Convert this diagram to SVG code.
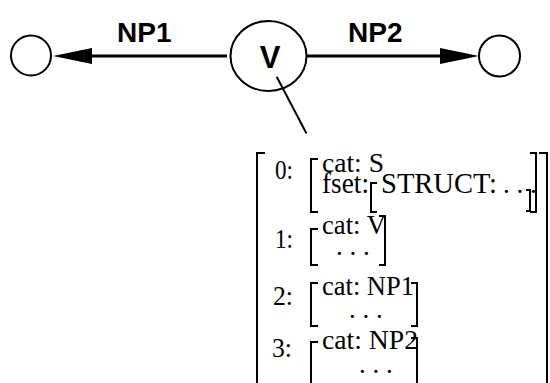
<svg xmlns="http://www.w3.org/2000/svg" width="550" height="383" viewBox="0 0 550 383">
<style>
.node{fill:none;stroke:#000;stroke-width:2}
.edge{stroke:#000;stroke-width:3;fill:none}
.link{stroke:#000;stroke-width:2;fill:none}
.lbl{font-family:"Liberation Sans",Arial,sans-serif;font-weight:bold;fill:#000}
.avm{font-family:"Liberation Serif","Times New Roman",serif;font-size:27px;fill:#000}
.big{font-size:29px}
.br{fill:none;stroke:#000;stroke-width:2}
</style>
<defs>
<marker id="head" markerUnits="userSpaceOnUse" markerWidth="40" markerHeight="18" viewBox="0 -9 40 18" refX="0" refY="0" orient="auto">
<path d="M0,-8 L39,0 L0,8 z" fill="#000"/>
</marker>
</defs>
<rect width="550" height="383" fill="#fff"/>
<g id="connectors">
<line class="edge" x1="227" y1="56" x2="92" y2="56" marker-end="url(#head)"/>
<line class="edge" x1="307" y1="56" x2="440" y2="56" marker-end="url(#head)"/>
<line class="link" x1="276.7" y1="76.7" x2="306.5" y2="133.5"/>
<text class="lbl" x="117" y="41.5" font-size="28">NP1</text>
<text class="lbl" x="348" y="41.5" font-size="28">NP2</text>
</g>
<g id="node-left">
<circle class="node" cx="31" cy="55.5" r="20"/>
</g>
<g id="node-v">
<ellipse class="node" cx="268.5" cy="56" rx="38" ry="35"/>
<text class="lbl" x="270" y="68" font-size="31" text-anchor="middle">V</text>
</g>
<g id="node-right">
<circle class="node" cx="499.5" cy="56" r="20.5"/>
</g>
<g id="avm">
<path class="br" d="M265,153 H257 V390"/>
<path class="br" d="M539,153 H547 V390"/>
<text class="avm" x="275" y="179" textLength="18" lengthAdjust="spacingAndGlyphs">0:</text>
<path class="br" d="M318,159 H311 V212 H318"/>
<text class="avm" x="322" y="172" textLength="62" lengthAdjust="spacingAndGlyphs">cat: S</text>
<text class="avm big" x="322" y="193" textLength="47" lengthAdjust="spacingAndGlyphs">fset:</text>
<path class="br" d="M377,183 H371 V212 H377"/>
<text class="avm big" x="381" y="193" textLength="116" lengthAdjust="spacingAndGlyphs">STRUCT:</text>
<text class="avm" x="503" y="193">. . .</text>
<path class="br" d="M526,190 H530 V211 H526"/>
<path class="br" d="M530,153 H536 V212 H530"/>
<text class="avm" x="275" y="248" textLength="18" lengthAdjust="spacingAndGlyphs">1:</text>
<path class="br" d="M318,229 H311 V265 H318"/>
<text class="avm" x="322" y="234" textLength="64" lengthAdjust="spacingAndGlyphs">cat: V</text>
<text class="avm" x="336" y="255">. . .</text>
<path class="br" d="M379,216 H385 V265 H379"/>
<text class="avm" x="273" y="305" textLength="20" lengthAdjust="spacingAndGlyphs">2:</text>
<path class="br" d="M318,283 H311 V326 H318"/>
<text class="avm" x="322" y="295" textLength="92" lengthAdjust="spacingAndGlyphs">cat: NP1</text>
<text class="avm" x="349" y="318" font-size="21">. . .</text>
<path class="br" d="M411,283 H417 V326 H411"/>
<text class="avm" x="272" y="357" textLength="20" lengthAdjust="spacingAndGlyphs">3:</text>
<path class="br" d="M318,342 H311 V390"/>
<text class="avm" x="322" y="349" textLength="96" lengthAdjust="spacingAndGlyphs">cat: NP2</text>
<text class="avm" x="359" y="373" font-size="21">. . .</text>
<path class="br" d="M411,338 H417 V390"/>
</g>
</svg>
